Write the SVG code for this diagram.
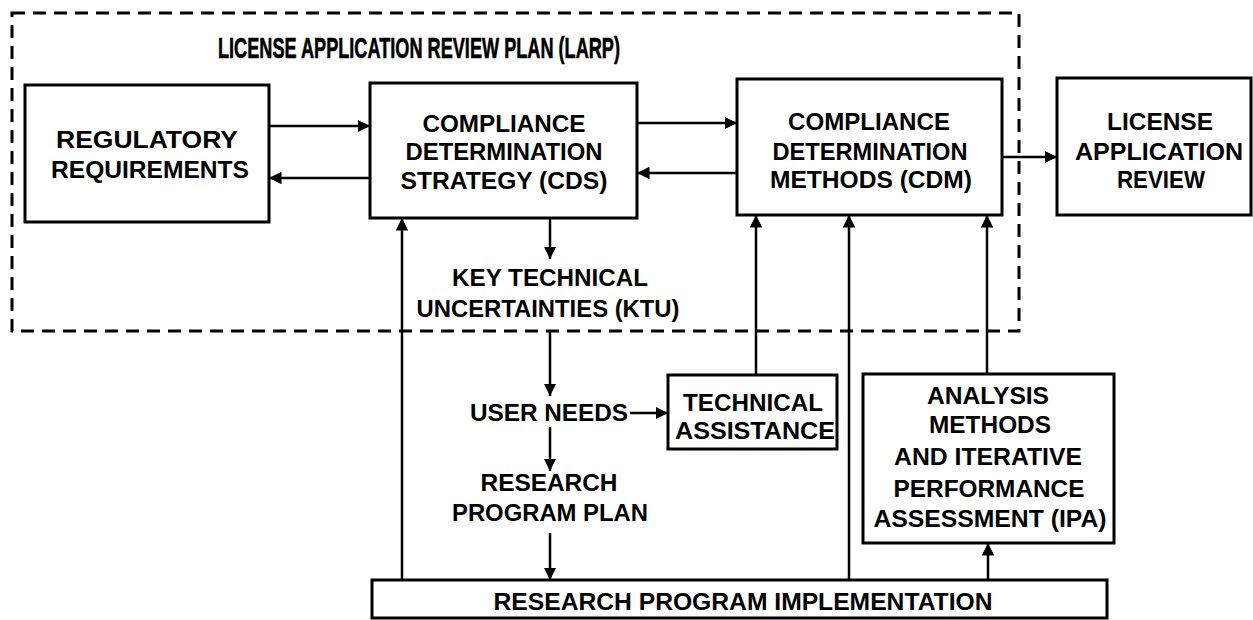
<svg xmlns="http://www.w3.org/2000/svg" width="1253" height="620" viewBox="0 0 1253 620">
  <style>
    .box { fill: #fff; stroke: #000; stroke-width: 3; }
    .boundary { fill: none; stroke: #000; stroke-width: 3; stroke-dasharray: 13 8; }
    .wire { fill: none; stroke: #000; stroke-width: 2.5; marker-end: url(#head); }
    text { font-family: "Liberation Sans", Arial, sans-serif; font-weight: bold; font-size: 24px; fill: #000; text-anchor: middle; }
    .title { font-size: 29px; text-anchor: start; stroke: #000; stroke-width: 0.6; }
  </style>
  <defs>
    <marker id="head" viewBox="0 0 10 10" refX="10" refY="5" markerWidth="5" markerHeight="5" orient="auto" markerUnits="strokeWidth">
      <path d="M0,0 L10,5 L0,10 z" fill="#000"/>
    </marker>
  </defs>

  <rect width="1253" height="620" fill="#fff"/>

  <!-- LARP boundary -->
  <g id="larp-boundary">
    <rect class="boundary" x="12" y="13" width="1007" height="318"/>
    <text class="title" x="218" y="58" textLength="402" lengthAdjust="spacingAndGlyphs">LICENSE APPLICATION REVIEW PLAN (LARP)</text>
  </g>

  <!-- connectors -->
  <g id="connectors">
    <line class="wire" x1="269" y1="126" x2="370" y2="126"/>
    <line class="wire" x1="370" y1="178" x2="269" y2="178"/>
    <line class="wire" x1="637" y1="123" x2="737" y2="123"/>
    <line class="wire" x1="737" y1="173" x2="637" y2="173"/>
    <line class="wire" x1="1002" y1="157" x2="1057" y2="157"/>
    <line class="wire" x1="550" y1="218" x2="550" y2="259"/>
    <line class="wire" x1="550" y1="331" x2="550" y2="396"/>
    <line class="wire" x1="550" y1="427" x2="550" y2="471"/>
    <line class="wire" x1="550" y1="533" x2="550" y2="580"/>
    <line class="wire" x1="630" y1="413" x2="668" y2="413"/>
    <line class="wire" x1="756" y1="375" x2="756" y2="215"/>
    <line class="wire" x1="402" y1="580" x2="402" y2="218"/>
    <line class="wire" x1="849" y1="580" x2="849" y2="215"/>
    <line class="wire" x1="987" y1="374" x2="987" y2="215"/>
    <line class="wire" x1="988" y1="580" x2="988" y2="543"/>
  </g>

  <g id="regulatory-requirements">
    <rect class="box" x="25" y="85" width="244" height="137"/>
    <text x="147" y="148" textLength="182" lengthAdjust="spacingAndGlyphs">REGULATORY</text>
    <text x="150" y="178" textLength="198" lengthAdjust="spacingAndGlyphs">REQUIREMENTS</text>
  </g>

  <g id="cds">
    <rect class="box" x="370" y="83" width="267" height="135"/>
    <text x="504" y="132" textLength="163" lengthAdjust="spacingAndGlyphs">COMPLIANCE</text>
    <text x="504" y="160" textLength="197" lengthAdjust="spacingAndGlyphs">DETERMINATION</text>
    <text x="504" y="189" textLength="207" lengthAdjust="spacingAndGlyphs">STRATEGY (CDS)</text>
  </g>

  <g id="cdm">
    <rect class="box" x="737" y="79" width="265" height="136"/>
    <text x="869" y="130" textLength="162" lengthAdjust="spacingAndGlyphs">COMPLIANCE</text>
    <text x="870" y="160" textLength="195" lengthAdjust="spacingAndGlyphs">DETERMINATION</text>
    <text x="871" y="188" textLength="202" lengthAdjust="spacingAndGlyphs">METHODS (CDM)</text>
  </g>

  <g id="license-application-review">
    <rect class="box" x="1057" y="78" width="194" height="137"/>
    <text x="1160" y="130" textLength="106" lengthAdjust="spacingAndGlyphs">LICENSE</text>
    <text x="1159" y="160" textLength="168" lengthAdjust="spacingAndGlyphs">APPLICATION</text>
    <text x="1161" y="188" textLength="88" lengthAdjust="spacingAndGlyphs">REVIEW</text>
  </g>

  <g id="ktu">
    <text x="550" y="286" textLength="196" lengthAdjust="spacingAndGlyphs">KEY TECHNICAL</text>
    <text x="548" y="317" textLength="263" lengthAdjust="spacingAndGlyphs">UNCERTAINTIES (KTU)</text>
  </g>

  <g id="user-needs">
    <text x="549" y="421" textLength="158" lengthAdjust="spacingAndGlyphs">USER NEEDS</text>
  </g>

  <g id="technical-assistance">
    <rect class="box" x="668" y="375" width="169" height="74"/>
    <text x="753" y="411" textLength="140" lengthAdjust="spacingAndGlyphs">TECHNICAL</text>
    <text x="755" y="439" textLength="160" lengthAdjust="spacingAndGlyphs">ASSISTANCE</text>
  </g>

  <g id="research-program-plan">
    <text x="549" y="491" textLength="137" lengthAdjust="spacingAndGlyphs">RESEARCH</text>
    <text x="550" y="521" textLength="196" lengthAdjust="spacingAndGlyphs">PROGRAM PLAN</text>
  </g>

  <g id="ipa">
    <rect class="box" x="863" y="374" width="251" height="169"/>
    <text x="988" y="404" textLength="122" lengthAdjust="spacingAndGlyphs">ANALYSIS</text>
    <text x="990" y="433" textLength="122" lengthAdjust="spacingAndGlyphs">METHODS</text>
    <text x="988" y="465" textLength="188" lengthAdjust="spacingAndGlyphs">AND ITERATIVE</text>
    <text x="989" y="497" textLength="191" lengthAdjust="spacingAndGlyphs">PERFORMANCE</text>
    <text x="990" y="527" textLength="233" lengthAdjust="spacingAndGlyphs">ASSESSMENT (IPA)</text>
  </g>

  <g id="research-program-implementation">
    <rect class="box" x="372" y="580" width="735" height="38"/>
    <text x="743" y="610" textLength="499" lengthAdjust="spacingAndGlyphs">RESEARCH PROGRAM IMPLEMENTATION</text>
  </g>
</svg>
